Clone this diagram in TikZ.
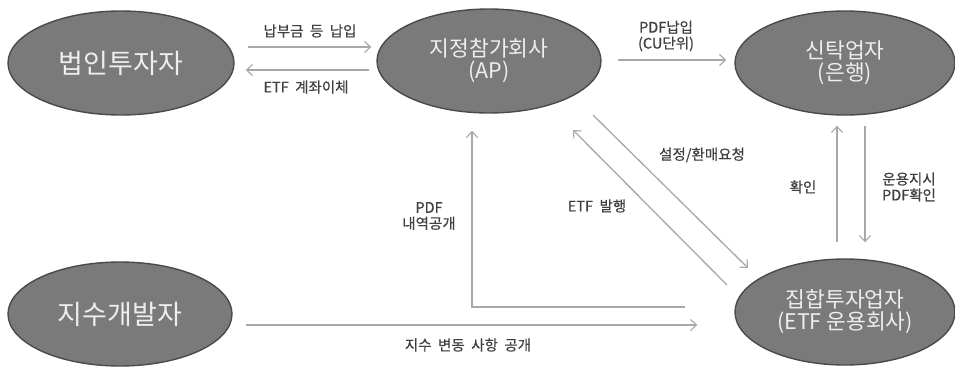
\documentclass[tikz,border=0pt]{standalone}
\usepackage{fontspec}
\setmainfont{Noto Sans CJK KR}
\newfontfamily\lblfont{Noto Sans CJK KR}[WordSpace=2, FakeBold=0.5]
\usetikzlibrary{shapes.geometric,arrows.meta,calc}
\definecolor{ellfill}{HTML}{7A7A7A}
\definecolor{elldraw}{HTML}{4A4A4A}
\definecolor{elltext}{HTML}{EEEEEE}
\definecolor{arrgray}{HTML}{A8A8A8}
\definecolor{lbltext}{HTML}{404040}
\tikzset{
  ent/.style={ellipse, draw=elldraw, line width=1.4pt, fill=ellfill, text=elltext,
    inner sep=0pt, align=center, font=\fontsize{21.5}{22}\selectfont},
  bigent/.style={ent, font=\fontsize{27}{28}\selectfont},
  conn/.style={draw=arrgray, line width=1.3pt, -{Straight Barb[length=6pt,width=11pt,line width=1.1pt]}},
  lbl/.style={text=lbltext, align=center, inner sep=0pt, font=\lblfont\fontsize{14.5}{16}\selectfont}
}
\begin{document}
\begin{tikzpicture}[x=1pt,y=-1pt]
\useasboundingbox (0,0) rectangle (955,370);
\fill[white] (0,0) rectangle (955,370);
% entities
\node[bigent, minimum width=226pt, minimum height=104pt] (inv) at (121,63) {법인투자자};
\node[ent, minimum width=224pt, minimum height=104pt] (ap) at (489,61) {지정참가회사\\(AP)};
\node[ent, minimum width=220pt, minimum height=104pt] (bank) at (845,63) {신탁업자\\(은행)};
\node[bigent, minimum width=224pt, minimum height=104pt] (idx) at (120,314) {지수개발자};
\node[ent, minimum width=220pt, minimum height=106pt] (amc) at (845,312) {집합투자업자\\(ETF 운용회사)};
% connectors
\draw[conn] ($(inv.east)+(13,-16)$) -- ($(ap.west)+(-5,-14)$);
\draw[conn] ($(ap.west)+(-7,9)$) -- ($(inv.east)+(11,7)$);
\draw[conn] ($(ap.east)+(16,-1)$) -- ($(bank.west)+(-8,-3)$);
\draw[conn] ($(amc.north)+(-8,-16)$) -- ($(bank.south)+(-8,10)$);
\draw[conn] ($(bank.south)+(20,10)$) -- ($(amc.north)+(20,-16)$);
\draw[conn] ($(ap.center)+(104,54)$) -- ($(amc.center)+(-97,-44)$);
\draw[conn] ($(amc.center)+(-118,-27)$) -- ($(ap.center)+(84,69)$);
\draw[conn] ($(amc.west)+(-49,-5)$) -| ($(ap.south)+(-17,17)$);
\draw[conn] ($(idx.east)+(13,11)$) -- ($(amc.west)+(-37,13)$);
% labels
\node[lbl] (l1) at (310,31) {납부금 등 납입};
\node[lbl] (l2) at (306,87) {ETF 계좌이체};
\node[lbl] (l3) at (666,36) {PDF납입\\(CU단위)};
\node[lbl] (l4) at (803,187) {확인};
\node[lbl] (l5) at (909,187) {운용지시\\PDF확인};
\node[lbl] (l6) at (702,155) {설정/환매요청};
\node[lbl] (l7) at (597,206) {ETF 발행};
\node[lbl] (l8) at (429,216) {PDF\\내역공개};
\node[lbl] (l9) at (468,345) {지수 변동 사항 공개};
\end{tikzpicture}
\end{document}
